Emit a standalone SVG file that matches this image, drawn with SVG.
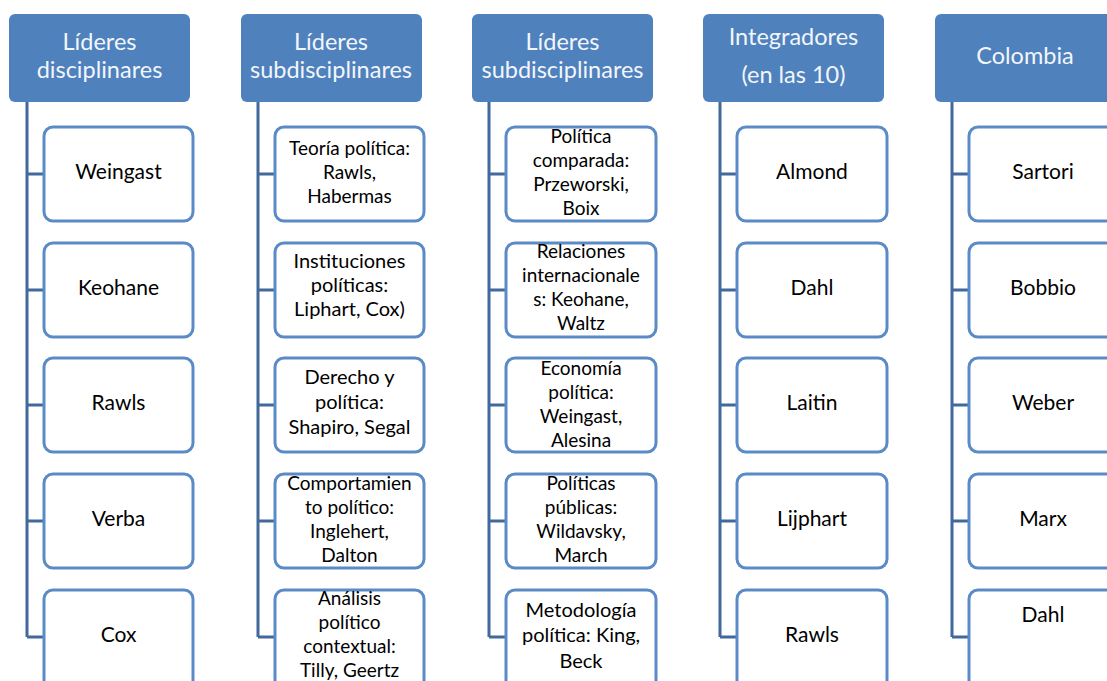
<svg xmlns="http://www.w3.org/2000/svg" width="1107" height="681" viewBox="0 0 1107 681">
<style>
.hdr rect{fill:#4f81bd;}
.hdr text{fill:#f2f6fb;font-family:Lato,"Liberation Sans",sans-serif;font-size:23.5px;text-anchor:middle;}
.box rect{fill:#ffffff;stroke:#5b8bc7;stroke-width:3;}
.box text{fill:#000000;font-family:Lato,"Liberation Sans",sans-serif;text-anchor:middle;}
.n{font-size:21px;}
.s{font-size:19px;}
.m{font-size:20px;}
#connectors path{fill:none;stroke:#42699c;stroke-width:3;}
</style>
<rect width="1107" height="681" fill="#ffffff"/>
<g id="connectors">
<path d="M27,102V637M27,174H44M27,290H44M27,405H44M27,521H44M27,637H44"/>
<path d="M258,102V637M258,174H275M258,290H275M258,405H275M258,521H275M258,637H275"/>
<path d="M489,102V637M489,174H506M489,290H506M489,405H506M489,521H506M489,637H506"/>
<path d="M720,102V637M720,174H737M720,290H737M720,405H737M720,521H737M720,637H737"/>
<path d="M952,102V637M952,174H969M952,290H969M952,405H969M952,521H969M952,637H969"/>
</g>
<g id="h1" class="hdr"><rect x="9" y="14" width="181" height="88" rx="6"/><text x="99.5" y="50">Líderes</text><text x="99.5" y="78">disciplinares</text></g>
<g id="h2" class="hdr"><rect x="241" y="14" width="181" height="88" rx="6"/><text x="331" y="50">Líderes</text><text x="331" y="78">subdisciplinares</text></g>
<g id="h3" class="hdr"><rect x="472" y="14" width="181" height="88" rx="6"/><text x="562.5" y="50">Líderes</text><text x="562.5" y="78">subdisciplinares</text></g>
<g id="h4" class="hdr"><rect x="703" y="14" width="181" height="88" rx="6"/><text x="793.5" y="45">Integradores</text><text x="793.5" y="83">(en las 10)</text></g>
<g id="h5" class="hdr"><rect x="935" y="14" width="181" height="88" rx="6"/><text x="1025" y="64">Colombia</text></g>

<g id="c1a" class="box"><rect x="44" y="127" width="149" height="94" rx="9"/><text class="n" x="118.5" y="179">Weingast</text></g>
<g id="c1b" class="box"><rect x="44" y="243" width="149" height="94" rx="9"/><text class="n" x="118.5" y="295">Keohane</text></g>
<g id="c1c" class="box"><rect x="44" y="358" width="149" height="94" rx="9"/><text class="n" x="118.5" y="410">Rawls</text></g>
<g id="c1d" class="box"><rect x="44" y="474" width="149" height="94" rx="9"/><text class="n" x="118.5" y="526">Verba</text></g>
<g id="c1e" class="box"><rect x="44" y="590" width="149" height="110" rx="9"/><text class="n" x="118.5" y="642">Cox</text></g>

<g id="c2a" class="box"><rect x="275" y="127" width="149" height="94" rx="9"/><text class="s" x="349.5" y="155">Teoría política:</text><text class="s" x="349.5" y="179">Rawls,</text><text class="s" x="349.5" y="203">Habermas</text></g>
<g id="c2b" class="box"><rect x="275" y="243" width="149" height="94" rx="9"/><text class="m" x="349.5" y="268">Instituciones</text><text class="m" x="349.5" y="292">políticas:</text><text class="m" x="349.5" y="316">Liphart, Cox)</text></g>
<g id="c2c" class="box"><rect x="275" y="358" width="149" height="94" rx="9"/><text class="m" x="349.5" y="384">Derecho y</text><text class="m" x="349.5" y="409">política:</text><text class="m" x="349.5" y="434">Shapiro, Segal</text></g>
<g id="c2d" class="box"><rect x="275" y="474" width="149" height="94" rx="9"/><text class="s" x="349.5" y="490">Comportamien</text><text class="s" x="349.5" y="514">to político:</text><text class="s" x="349.5" y="538">Inglehert,</text><text class="s" x="349.5" y="562">Dalton</text></g>
<g id="c2e" class="box"><rect x="275" y="590" width="149" height="110" rx="9"/><text class="s" x="349.5" y="605">Análisis</text><text class="s" x="349.5" y="629">político</text><text class="s" x="349.5" y="653">contextual:</text><text class="s" x="349.5" y="677">Tilly, Geertz</text></g>

<g id="c3a" class="box"><rect x="506" y="127" width="150" height="94" rx="9"/><text class="s" x="581" y="143">Política</text><text class="s" x="581" y="167">comparada:</text><text class="s" x="581" y="191">Przeworski,</text><text class="s" x="581" y="215">Boix</text></g>
<g id="c3b" class="box"><rect x="506" y="243" width="150" height="94" rx="9"/><text class="s" x="581" y="258">Relaciones</text><text class="s" x="581" y="282">internacionale</text><text class="s" x="581" y="306">s: Keohane,</text><text class="s" x="581" y="330">Waltz</text></g>
<g id="c3c" class="box"><rect x="506" y="358" width="150" height="94" rx="9"/><text class="s" x="581" y="375">Economía</text><text class="s" x="581" y="399">política:</text><text class="s" x="581" y="423">Weingast,</text><text class="s" x="581" y="447">Alesina</text></g>
<g id="c3d" class="box"><rect x="506" y="474" width="150" height="94" rx="9"/><text class="s" x="581" y="490">Políticas</text><text class="s" x="581" y="514">públicas:</text><text class="s" x="581" y="538">Wildavsky,</text><text class="s" x="581" y="562">March</text></g>
<g id="c3e" class="box"><rect x="506" y="590" width="150" height="110" rx="9"/><text class="m" x="581" y="617">Metodología</text><text class="m" x="581" y="642">política: King,</text><text class="m" x="581" y="668">Beck</text></g>

<g id="c4a" class="box"><rect x="737" y="127" width="150" height="94" rx="9"/><text class="n" x="812" y="179">Almond</text></g>
<g id="c4b" class="box"><rect x="737" y="243" width="150" height="94" rx="9"/><text class="n" x="812" y="295">Dahl</text></g>
<g id="c4c" class="box"><rect x="737" y="358" width="150" height="94" rx="9"/><text class="n" x="812" y="410">Laitin</text></g>
<g id="c4d" class="box"><rect x="737" y="474" width="150" height="94" rx="9"/><text class="n" x="812" y="526">Lijphart</text></g>
<g id="c4e" class="box"><rect x="737" y="590" width="150" height="110" rx="9"/><text class="n" x="812" y="642">Rawls</text></g>

<g id="c5a" class="box"><rect x="969" y="127" width="150" height="94" rx="9"/><text class="n" x="1043" y="179">Sartori</text></g>
<g id="c5b" class="box"><rect x="969" y="243" width="150" height="94" rx="9"/><text class="n" x="1043" y="295">Bobbio</text></g>
<g id="c5c" class="box"><rect x="969" y="358" width="150" height="94" rx="9"/><text class="n" x="1043" y="410">Weber</text></g>
<g id="c5d" class="box"><rect x="969" y="474" width="150" height="94" rx="9"/><text class="n" x="1043" y="526">Marx</text></g>
<g id="c5e" class="box"><rect x="969" y="590" width="150" height="110" rx="9"/><text class="n" x="1043" y="622">Dahl</text></g>
</svg>
